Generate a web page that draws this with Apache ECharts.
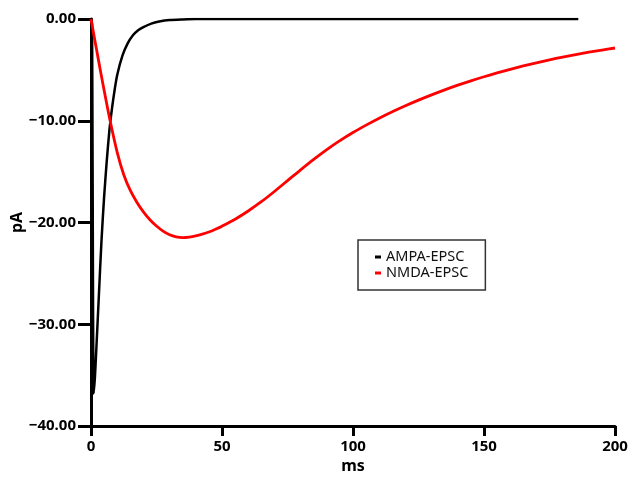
<!DOCTYPE html>
<html>
<head>
<meta charset="utf-8">
<script src="https://cdn.jsdelivr.net/npm/echarts@6/dist/echarts.min.js"></script>
<style>
	html, body { margin: 0; padding: 0; background: #fff; }
	#chart { width: 628px; height: 479px; }
</style>
</head>
<body>
<div id="chart"></div>
<script>
	// AMPA-EPSC trace, [ms, pA]
	const ampaT = [0, 0.4, 1.0, 1.5, 2, 2.5, 3, 4, 5, 6, 7, 8, 9, 10, 12, 14, 16, 18, 20, 23, 26, 30, 35, 40, 60, 100, 150, 186]
	const ampaV = [0, -0.5, -36.8, -35.2, -32.6, -29.9, -27.2, -21.8, -17.5, -14.0, -11.0, -8.8, -7.0, -5.5, -3.6, -2.4, -1.6, -1.1, -0.8, -0.45, -0.25, -0.1, -0.04, 0, 0, 0, 0, 0]

	// NMDA-EPSC trace
	const nmdaT = [0, 2.5, 5, 7.5, 10, 12.5, 15, 17.5, 20, 22.5, 25, 27.5, 30, 32.5, 35, 37.5, 40, 42.5, 45, 47.5, 50,
		55, 60, 65, 70, 75, 80, 85, 90, 95, 100, 105, 110, 115, 120, 125, 130, 135, 140, 145, 150,
		155, 160, 165, 170, 175, 180, 185, 190, 195, 200]
	const nmdaV = [0, -3.55, -7.0, -10.25, -13.1, -15.3, -16.85, -18.0, -18.95, -19.73, -20.35, -20.85, -21.21, -21.41, -21.48, -21.43, -21.31, -21.14, -20.93, -20.66, -20.36,
		-19.68, -18.87, -17.96, -16.95, -15.89, -14.82, -13.79, -12.83, -11.95, -11.15, -10.43, -9.75, -9.12, -8.53, -7.975, -7.455, -6.965, -6.505, -6.075, -5.675,
		-5.3, -4.945, -4.615, -4.305, -4.015, -3.745, -3.495, -3.265, -3.05, -2.85]

	const yTicks = [-40, -30, -20, -10, 0]
	const xTicks = [0, 50, 100, 150, 200]

	const ampa = ampaT.map((t, i) => [t, ampaV[i]])
	const nmda = nmdaT.map((t, i) => [t, nmdaV[i]])

	const font = 'Noto Sans'
	var myChart = echarts.init(document.getElementById('chart'), null, { renderer: 'canvas' })
	var option = {
		animation: false,
		grid: { left: 91, right: 13, top: 19, bottom: 53, containLabel: false, outerBoundsMode: 'none' },
		legend: {
			orient: 'vertical',
			left: 358,
			top: 240,
			width: 126,
			padding: [9, 17, 9, 17],
			itemGap: 0,
			itemWidth: 6,
			itemHeight: 3,
			icon: 'rect',
			borderColor: '#333',
			borderWidth: 1.5,
			textStyle: { fontFamily: font, fontSize: 14.5, color: '#111', lineHeight: 16 },
			data: ['AMPA-EPSC', 'NMDA-EPSC']
		},
		xAxis: {
			type: 'value',
			min: 0,
			max: 200,
			interval: 50,
			name: 'ms',
			nameLocation: 'middle',
			nameGap: 28,
			nameTextStyle: { fontFamily: font, fontSize: 16, fontWeight: 'bold', color: '#000' },
			axisLine: { onZero: false, lineStyle: { color: '#000', width: 3 } },
			axisTick: { show: true, length: 10, lineStyle: { color: '#000', width: 3 } },
			axisLabel: {
				margin: 13,
				fontFamily: font, fontSize: 15, fontWeight: 'bold', color: '#000',
				formatter: v => xTicks.includes(v) ? String(v) : ''
			},
			splitLine: { show: false }
		},
		yAxis: {
			type: 'value',
			min: -40,
			max: 0,
			interval: 10,
			name: 'pA',
			nameLocation: 'middle',
			nameGap: 66,
			nameMoveOverlap: false,
			nameTextStyle: { fontFamily: font, fontSize: 16, fontWeight: 'bold', color: '#000' },
			axisLine: { show: true, lineStyle: { color: '#000', width: 3 } },
			axisTick: { show: true, length: 13, lineStyle: { color: '#000', width: 3 } },
			axisLabel: {
				margin: 15,
				fontFamily: font, fontSize: 15, fontWeight: 'bold', color: '#000',
				formatter: v => yTicks.includes(v) ? v.toFixed(2).replace('-', '\u2212') : ''
			},
			splitLine: { show: false }
		},
		series: [{
			name: 'AMPA-EPSC',
			type: 'line',
			data: ampa,
			showSymbol: false,
			smooth: 0.2,
			color: '#000',
			lineStyle: { color: '#000', width: 2.5 }
		}, {
			name: 'NMDA-EPSC',
			type: 'line',
			data: nmda,
			showSymbol: false,
			smooth: 0.3,
			color: '#ff0000',
			lineStyle: { color: '#ff0000', width: 2.8 }
		}]
	}
	myChart.setOption(option)
</script>
</body>
</html>
